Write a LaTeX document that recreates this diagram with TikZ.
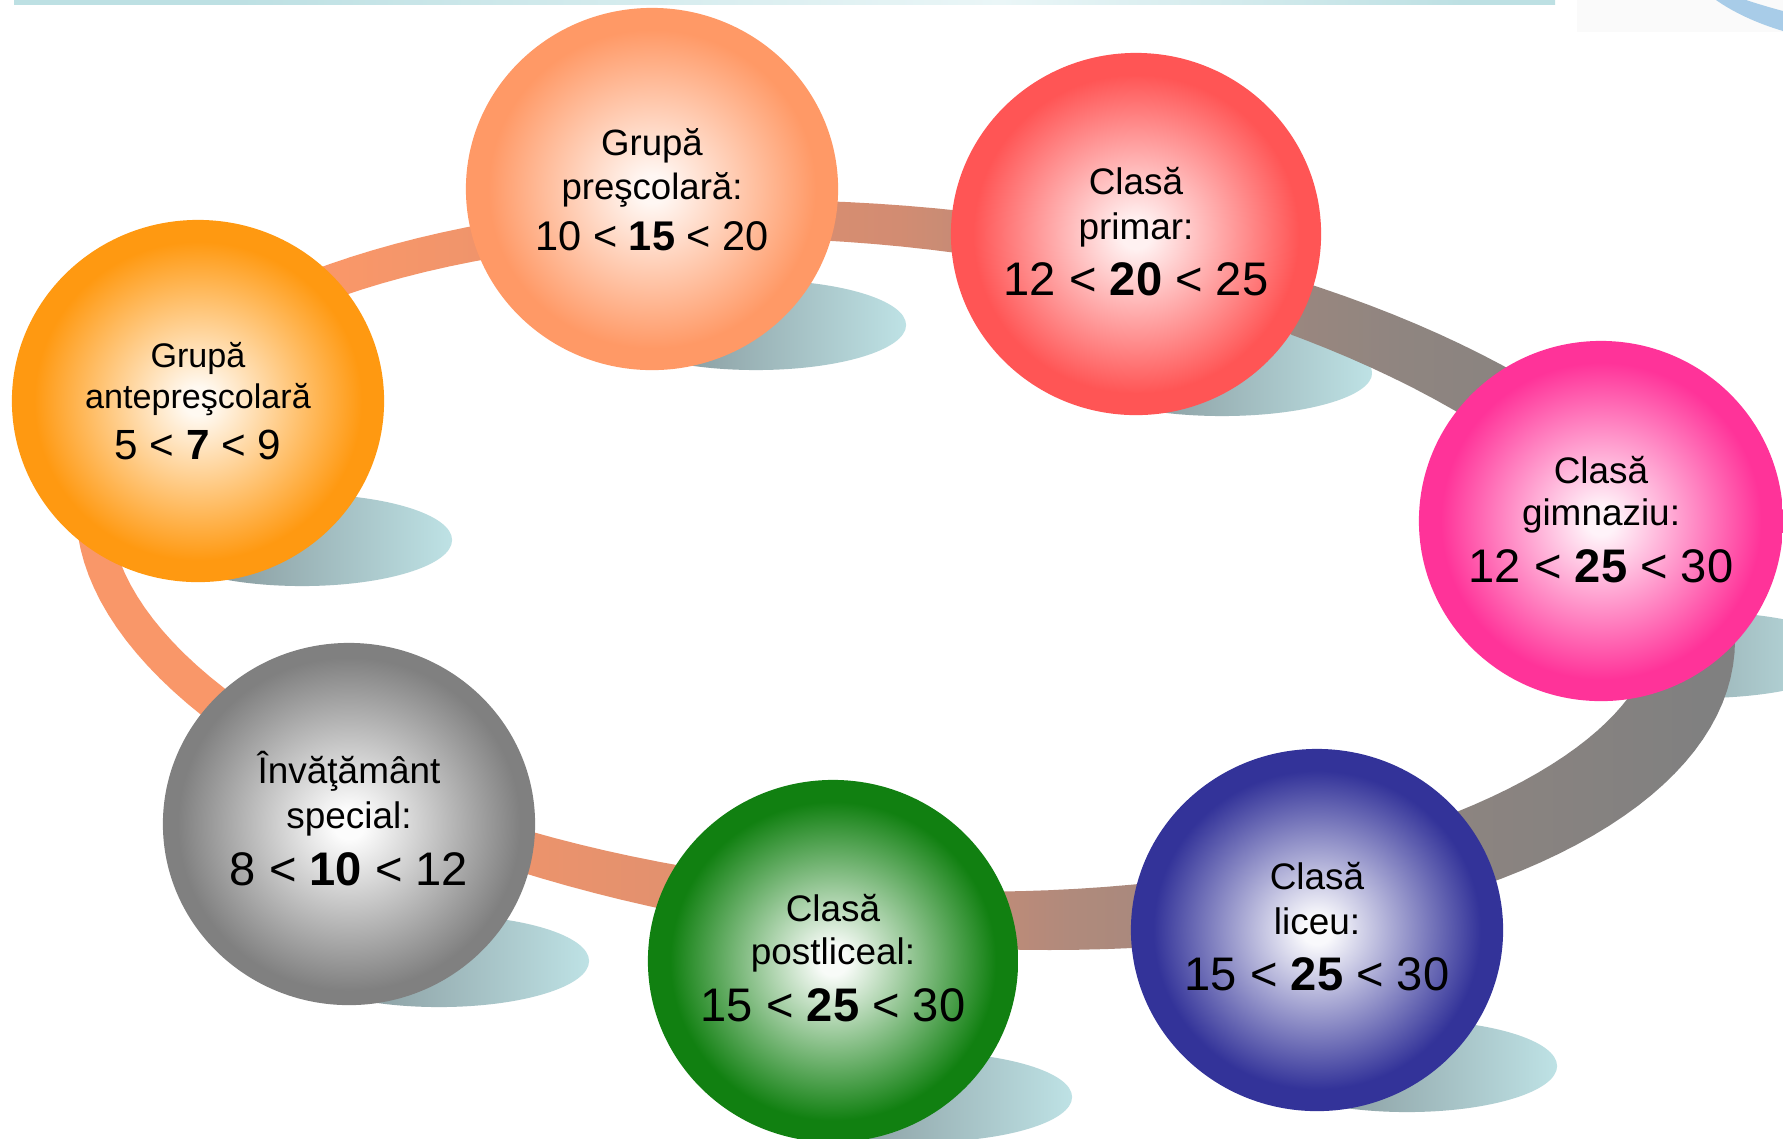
\documentclass[tikz,border=0pt]{standalone}
\usepackage{fontspec}
\setmainfont{Liberation Sans}
\usetikzlibrary{shapes.geometric,calc}

\definecolor{cOrange}{RGB}{255,153,17}
\definecolor{cSalmon}{RGB}{255,153,102}
\definecolor{cRed}{RGB}{255,85,85}
\definecolor{cPink}{RGB}{255,51,153}
\definecolor{cGray}{RGB}{128,128,128}
\definecolor{cGreen}{RGB}{17,128,17}
\definecolor{cBlue}{RGB}{51,51,153}
\colorlet{wOrange}{cOrange!6!white}
\colorlet{wSalmon}{cSalmon!8!white}
\colorlet{wRed}{cRed!8!white}
\colorlet{wPink}{cPink!6!white}
\colorlet{wGray}{cGray!2!white}
\colorlet{wGreen}{cGreen!3!white}
\colorlet{wBlue}{cBlue!3!white}
\definecolor{shL}{RGB}{122,136,140}
\definecolor{shR}{RGB}{190,226,229}
\definecolor{rA}{RGB}{249,151,105}
\definecolor{rB}{RGB}{210,140,114}
\definecolor{rC}{RGB}{176,138,124}
\definecolor{rD}{RGB}{143,133,128}
\definecolor{rE}{RGB}{128,128,128}
\definecolor{barT}{RGB}{189,224,227}
\definecolor{barL}{RGB}{234,246,247}
\definecolor{decoBg}{RGB}{250,250,250}
\definecolor{decoBlue}{RGB}{168,204,232}

\pgfdeclareradialshading{sOrange}{\pgfpoint{0bp}{0bp}}{color(0bp)=(wOrange); color(2bp)=(wOrange); color(22bp)=(cOrange); color(50bp)=(cOrange)}
\pgfdeclareradialshading{sSalmon}{\pgfpoint{0bp}{0bp}}{color(0bp)=(wSalmon); color(2bp)=(wSalmon); color(22bp)=(cSalmon); color(50bp)=(cSalmon)}
\pgfdeclareradialshading{sRed}{\pgfpoint{0bp}{0bp}}{color(0bp)=(wRed); color(2bp)=(wRed); color(22bp)=(cRed); color(50bp)=(cRed)}
\pgfdeclareradialshading{sPink}{\pgfpoint{0bp}{0bp}}{color(0bp)=(wPink); color(2bp)=(wPink); color(22bp)=(cPink); color(50bp)=(cPink)}
\pgfdeclareradialshading{sGray}{\pgfpoint{0bp}{0bp}}{color(0bp)=(wGray); color(2bp)=(wGray); color(23bp)=(cGray); color(50bp)=(cGray)}
\pgfdeclareradialshading{sGreen}{\pgfpoint{0bp}{0bp}}{color(0bp)=(wGreen); color(2bp)=(wGreen); color(22bp)=(cGreen); color(50bp)=(cGreen)}
\pgfdeclareradialshading{sBlue}{\pgfpoint{0bp}{0bp}}{color(0bp)=(wBlue); color(2bp)=(wBlue); color(22bp)=(cBlue); color(50bp)=(cBlue)}
\pgfdeclarehorizontalshading{ringsh}{100bp}{color(0bp)=(rA); color(33bp)=(rA); color(49.8bp)=(rB); color(55bp)=(rC); color(65bp)=(rD); color(74bp)=(rE); color(100bp)=(rE)}
\pgfdeclarehorizontalshading{barsh}{100bp}{color(0bp)=(barT); color(32bp)=(barT); color(57bp)=(barL); color(72bp)=(barT); color(100bp)=(barT)}

\tikzset{
  ball/.style={ellipse, inner sep=0pt, draw=none, shade, minimum width=3.72cm, minimum height=3.62cm},
  shadowel/.style={left color=shL, right color=shR},
  lsm/.style={anchor=base, inner sep=0pt, font=\fontsize{10.5}{12}\selectfont},
  lbg/.style={anchor=base, inner sep=0pt, font=\fontsize{13.4}{15}\selectfont},
  lsmA/.style={anchor=base, inner sep=0pt, font=\fontsize{9.7}{11}\selectfont},
  lbgA/.style={anchor=base, inner sep=0pt, font=\fontsize{12}{14}\selectfont},
  lsmB/.style={anchor=base, inner sep=0pt, font=\fontsize{10.4}{12}\selectfont},
  lbgB/.style={anchor=base, inner sep=0pt, font=\fontsize{11.8}{14}\selectfont},
  declare function={
    rox(\t)=905.5+829.5*cos(\t);
    roy(\t)=575+65*cos(\t)+369.3*sin(\t);
    rnx(\t)=-0.65*sin(\t)+3.693*cos(\t);
    rny(\t)=8.295*sin(\t);
    rnn(\t)=sqrt(rnx(\t)^2+rny(\t)^2);
    rw(\t)=34+51*((1+cos(\t-15))/2)^2;
    rix(\t)=rox(\t)-rw(\t)*rnx(\t)/rnn(\t);
    riy(\t)=roy(\t)-rw(\t)*rny(\t)/rnn(\t);
  },
}

\begin{document}
\begin{tikzpicture}[x=0.01cm,y=-0.01cm]
\clip (0,0) rectangle (1783,1138);
\fill[white] (0,0) rectangle (1783,1138);

% top decoration
\shade[shading=barsh] (14,0) rectangle (1555,4.5);
\fill[decoBg] (1577,0) rectangle (1783,32);
\fill[decoBlue] (1716,0) .. controls (1733,12) and (1756,23) .. (1783,31)
  -- (1783,11) .. controls (1768,7) and (1755,3) .. (1746,0) -- cycle;

% shadows
\shade[shadowel] (302,540) ellipse [x radius=1.5cm, y radius=0.46cm];
\shade[shadowel] (756,325) ellipse [x radius=1.5cm, y radius=0.45cm];
\shade[shadowel] (1222,373) ellipse [x radius=1.5cm, y radius=0.43cm];
\shade[shadowel] (1700,655) ellipse [x radius=1.5cm, y radius=0.43cm];
\shade[shadowel] (439,961) ellipse [x radius=1.5cm, y radius=0.46cm];
\shade[shadowel] (922,1097) ellipse [x radius=1.5cm, y radius=0.45cm];
\shade[shadowel] (1407,1066) ellipse [x radius=1.5cm, y radius=0.46cm];

% ring
\shade[shading=ringsh, even odd rule]
  plot[variable=\t, domain=0:360, samples=181] ({rox(\t)},{roy(\t)}) -- cycle
  plot[variable=\t, domain=0:360, samples=181] ({rix(\t)},{riy(\t)}) -- cycle;

% balls
\node[ball, shading=sOrange] (c1) at (198,401) {};
\node[ball, shading=sSalmon] (c2) at (652,189) {};
\node[ball, shading=sRed, minimum width=3.70cm] (c3) at (1136,234) {};
\node[ball, shading=sPink, minimum width=3.64cm, minimum height=3.60cm] (c4) at (1601,521) {};
\node[ball, shading=sGray] (c5) at (349,824) {};
\node[ball, shading=sGreen, minimum width=3.70cm] (c6) at (833,961) {};
\node[ball, shading=sBlue] (c7) at (1317,930) {};

% texts
\node[lsmA] (c1a) at ($(c1)+(0,-34)$) {Grupă};
\node[lsmA] (c1b) at ($(c1)+(0,7)$) {antepreşcolară};
\node[lbgA] (c1c) at ($(c1)+(0,58)$) {5 < \textbf{7} < 9};

\node[lsmB] (c2a) at ($(c2)+(0,-34)$) {Grupă};
\node[lsmB] (c2b) at ($(c2)+(0,10)$) {preşcolară:};
\node[lbgB] (c2c) at ($(c2)+(0,61)$) {10 < \textbf{15} < 20};

\node[lsm] (c3a) at ($(c3)+(0,-40)$) {Clasă};
\node[lsm] (c3b) at ($(c3)+(0,5)$) {primar:};
\node[lbg] (c3c) at ($(c3)+(0,61)$) {12 < \textbf{20} < 25};

\node[lsm] (c4a) at ($(c4)+(0,-38)$) {Clasă};
\node[lsm] (c4b) at ($(c4)+(0,4)$) {gimnaziu:};
\node[lbg] (c4c) at ($(c4)+(0,61)$) {12 < \textbf{25} < 30};

\node[lsm] (c5a) at ($(c5)+(0,-41)$) {Învăţământ};
\node[lsm] (c5b) at ($(c5)+(0,4)$) {special:};
\node[lbg] (c5c) at ($(c5)+(0,61)$) {8 < \textbf{10} < 12};

\node[lsm] (c6a) at ($(c6)+(0,-40)$) {Clasă};
\node[lsm] (c6b) at ($(c6)+(0,3)$) {postliceal:};
\node[lbg] (c6c) at ($(c6)+(0,60)$) {15 < \textbf{25} < 30};

\node[lsm] (c7a) at ($(c7)+(0,-41)$) {Clasă};
\node[lsm] (c7b) at ($(c7)+(0,4)$) {liceu:};
\node[lbg] (c7c) at ($(c7)+(0,60)$) {15 < \textbf{25} < 30};
\end{tikzpicture}
\end{document}
